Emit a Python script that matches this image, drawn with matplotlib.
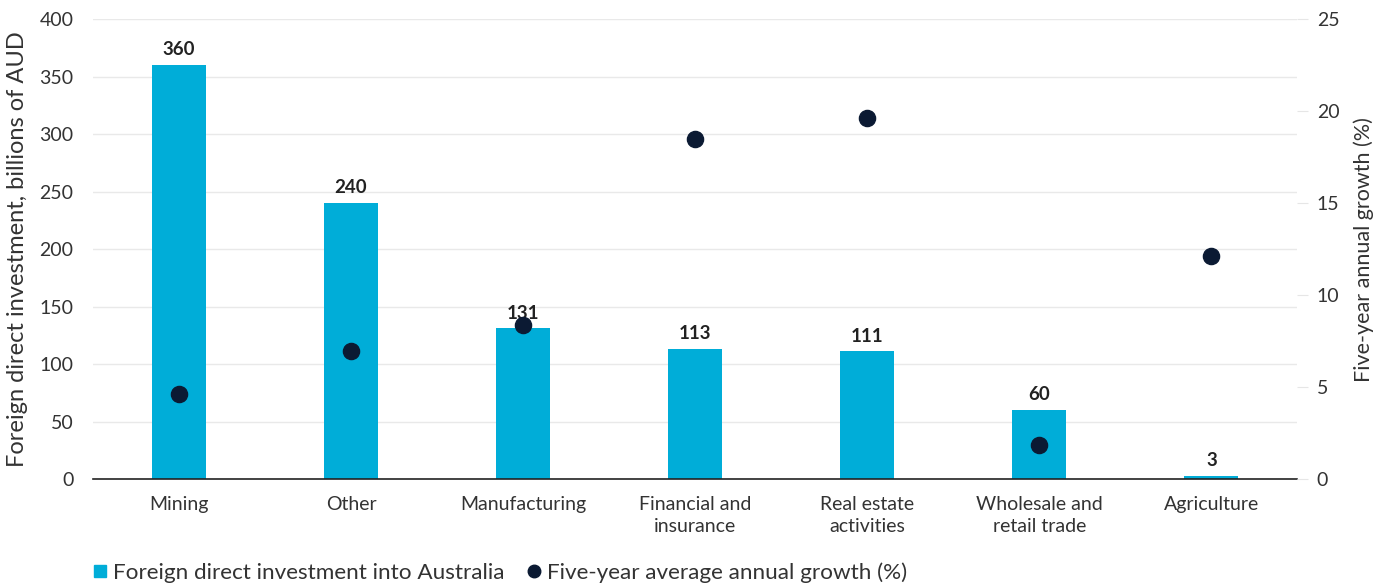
import numpy as np
import matplotlib.pyplot as plt
from matplotlib.lines import Line2D

plt.rcParams['font.family'] = ['Lato', 'DejaVu Sans']

categories = ['Mining', 'Other', 'Manufacturing', 'Financial and\ninsurance',
              'Real estate\nactivities', 'Wholesale and\nretail trade', 'Agriculture']
fdi = [360, 240, 131, 113, 111, 60, 3]
growth = [4.6, 6.95, 8.4, 18.5, 19.6, 1.85, 12.1]

bar_color = '#00ADD8'
dot_color = '#0B1A33'
text_color = '#333333'

fig = plt.figure(figsize=(13.92, 5.85), dpi=100)
ax = fig.add_axes([0.0668, 0.181, 0.8652, 0.7865])
x = np.arange(len(categories))

ax.bar(x, fdi, width=0.315, color=bar_color, zorder=2)
for xi, v in zip(x, fdi):
    ax.text(xi, v + 6, str(v), ha='center', va='bottom', fontsize=13.5,
            fontweight='bold', color='#222222', zorder=4)

ax.set_xlim(-0.5, len(categories) - 0.5)
ax.set_ylim(0, 400)
ax.set_yticks(range(0, 401, 50))
ax.set_xticks(x)
ax.set_xticklabels(categories, fontsize=14, color=text_color, linespacing=1.4)
ax.grid(axis='y', color='#e9e9e9', linewidth=1, zorder=0)
for s in ['top', 'right', 'left']:
    ax.spines[s].set_visible(False)
ax.spines['bottom'].set_color('#222222')
ax.spines['bottom'].set_linewidth(1.2)
ax.tick_params(axis='x', length=0, pad=12)
ax.tick_params(axis='y', length=0, labelsize=14, labelcolor=text_color, pad=14)
ax.set_ylabel('Foreign direct investment, billions of AUD', fontsize=17,
              color=text_color, labelpad=8)

ax2 = ax.twinx()
ax2.scatter(x, growth, s=135, color=dot_color, zorder=5)
ax2.set_ylim(0, 25)
ax2.set_yticks(range(0, 26, 5))
for s in ['top', 'right', 'left', 'bottom']:
    ax2.spines[s].set_visible(False)
ax2.tick_params(axis='y', length=8, color='#e6e6e6', labelsize=14,
                labelcolor=text_color, pad=6)
ax2.set_ylabel('Five-year annual growth (%)', fontsize=15.5, color=text_color,
               labelpad=10)

handles = [Line2D([], [], marker='s', linestyle='none', markersize=9,
                  color=bar_color),
           Line2D([], [], marker='o', linestyle='none', markersize=9,
                  color=dot_color)]
fig.legend(handles, ['Foreign direct investment into Australia',
                     'Five-year average annual growth (%)'],
           loc='lower left', bbox_to_anchor=(0.0668, 0.004), ncol=2, frameon=False,
           fontsize=16.2, handlelength=0.6, handletextpad=0.29, columnspacing=1.0,
           borderpad=0, borderaxespad=0, labelcolor=text_color)

fig.savefig('out.png', dpi=100)
